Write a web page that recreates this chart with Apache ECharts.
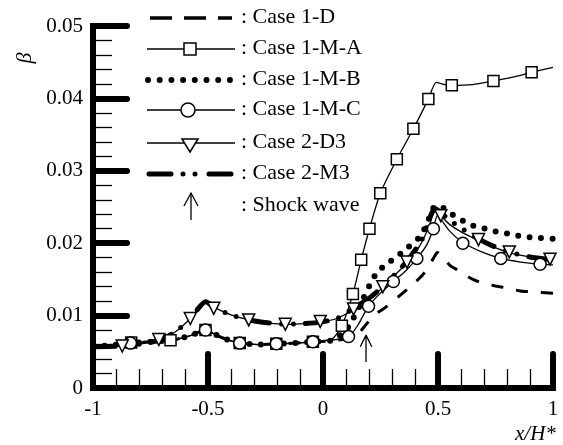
<!DOCTYPE html>
<html>
<head>
<meta charset="utf-8">
<script src="https://cdn.jsdelivr.net/npm/echarts@6/dist/echarts.min.js"></script>
<style>
  html, body { margin: 0; padding: 0; background: #fff; }
  #chart { width: 563px; height: 445px; }
</style>
</head>
<body>
<div id="chart"></div>
<script>
// shared left parts (1-x cases sit on the lower curve, 2-x on the upper one)
const lowerLeft = [[-1, 0.0057], [-0.92, 0.0059], [-0.84, 0.0062], [-0.75, 0.0064], [-0.66, 0.0066], [-0.58, 0.0072], [-0.51, 0.0080], [-0.45, 0.0071], [-0.40, 0.0065], [-0.36, 0.0062], [-0.28, 0.0060], [-0.20, 0.0061], [-0.12, 0.0062], [-0.04, 0.0064]]
const upperLeft = [[-1, 0.0057], [-0.87, 0.0058], [-0.79, 0.0061], [-0.71, 0.0066], [-0.64, 0.0078], [-0.58, 0.0095], [-0.51, 0.0119], [-0.47, 0.0111], [-0.40, 0.0101], [-0.32, 0.0094], [-0.24, 0.0090], [-0.16, 0.0088], [-0.08, 0.0089], [-0.01, 0.0091]]

const case1D = lowerLeft.concat([[0.04, 0.0065], [0.10, 0.0068], [0.15, 0.0074], [0.183, 0.0086], [0.22, 0.0100], [0.27, 0.0111], [0.335, 0.0128], [0.38, 0.0140], [0.43, 0.0155], [0.46, 0.0168], [0.48, 0.0179], [0.497, 0.0187], [0.553, 0.0169], [0.596, 0.0161], [0.64, 0.0152], [0.69, 0.0145], [0.75, 0.0141], [0.80, 0.0138], [0.857, 0.0134], [0.907, 0.0133], [1.0, 0.0131]])
const case1MA = lowerLeft.concat([[0.04, 0.0068], [0.082, 0.0086], [0.13, 0.0130], [0.166, 0.0177], [0.202, 0.0220], [0.249, 0.0269], [0.321, 0.0316], [0.393, 0.0358], [0.458, 0.0399], [0.492, 0.0422], [0.53, 0.0419], [0.56, 0.0418], [0.65, 0.0419], [0.741, 0.0424], [0.82, 0.0429], [0.907, 0.0436], [1.0, 0.0443]])
const case1MB = lowerLeft.concat([[0.04, 0.0066], [0.10, 0.0080], [0.133, 0.0097], [0.174, 0.0123], [0.217, 0.0151], [0.249, 0.0164], [0.289, 0.0174], [0.331, 0.0184], [0.372, 0.0195], [0.415, 0.0207], [0.45, 0.0225], [0.487, 0.0251], [0.521, 0.0249], [0.56, 0.0240], [0.608, 0.0231], [0.654, 0.0224], [0.705, 0.0220], [0.752, 0.0216], [0.806, 0.0213], [0.857, 0.0210], [0.907, 0.0208], [1.0, 0.0206]])
const case1MC = lowerLeft.concat([[0.04, 0.0066], [0.111, 0.0071], [0.15, 0.0086], [0.198, 0.0113], [0.25, 0.0131], [0.306, 0.0147], [0.36, 0.0162], [0.408, 0.0179], [0.45, 0.0197], [0.48, 0.0220], [0.497, 0.0238], [0.55, 0.0217], [0.608, 0.0201], [0.69, 0.0188], [0.773, 0.0179], [0.86, 0.0174], [0.944, 0.0171], [1.0, 0.0170]])
const case2D3 = upperLeft.concat([[0.06, 0.0096], [0.133, 0.0108], [0.20, 0.0122], [0.26, 0.0139], [0.31, 0.0155], [0.365, 0.0173], [0.42, 0.0196], [0.46, 0.0222], [0.487, 0.0244], [0.55, 0.0226], [0.61, 0.0214], [0.676, 0.0204], [0.74, 0.0195], [0.81, 0.0187], [0.90, 0.0181], [1.0, 0.0177]])
const case2M3 = upperLeft.concat([[0.06, 0.0096], [0.133, 0.0110], [0.20, 0.0124], [0.26, 0.0140], [0.365, 0.0175], [0.43, 0.0205], [0.487, 0.0248], [0.55, 0.0232], [0.61, 0.0219], [0.676, 0.0206], [0.74, 0.0196], [0.81, 0.0188], [0.90, 0.0181], [1.0, 0.0177]])

// marker positions
const marks1MA = [[-0.834, 0.0063], [-0.663, 0.0066], [-0.511, 0.0080], [-0.362, 0.0062], [-0.203, 0.0061], [-0.044, 0.0064], [0.082, 0.0086], [0.130, 0.0130], [0.166, 0.0177], [0.202, 0.0220], [0.249, 0.0269], [0.321, 0.0316], [0.393, 0.0358], [0.458, 0.0399], [0.560, 0.0418], [0.741, 0.0424], [0.907, 0.0436]]
const marks1MC = [[-0.837, 0.0062], [-0.511, 0.0080], [-0.362, 0.0062], [-0.203, 0.0061], [-0.044, 0.0064], [0.111, 0.0071], [0.198, 0.0113], [0.306, 0.0147], [0.408, 0.0179], [0.480, 0.0220], [0.608, 0.0200], [0.773, 0.0179], [0.944, 0.0171]]
const marks2D3 = [[-0.873, 0.0058], [-0.714, 0.0067], [-0.577, 0.0096], [-0.475, 0.0110], [-0.323, 0.0094], [-0.164, 0.0088], [-0.012, 0.0092], [0.133, 0.0109], [0.260, 0.0140], [0.365, 0.0174], [0.512, 0.0238], [0.676, 0.0205], [0.810, 0.0188], [0.987, 0.0178]]

// shock wave arrow: shaft then open head
const shockArrow = [[0.187, 0.0036], [0.187, 0.0073], [0.162, 0.0057], [0.187, 0.0073], [0.212, 0.0057]]

const xTicks = { min: -1, max: 1, step: 0.5 }
const yTicks = { min: 0, max: 0.05, step: 0.01 }

const legendRows = [
  { name: 'Case 1-D', y: 18 },
  { name: 'Case 1-M-A', y: 49 },
  { name: 'Case 1-M-B', y: 80 },
  { name: 'Case 1-M-C', y: 110 },
  { name: 'Case 2-D3', y: 143 },
  { name: 'Case 2-M3', y: 174 },
  { name: 'Shock wave', y: 206 },
]

const serif = '"Liberation Serif", "Times New Roman", serif'
const chart = echarts.init(document.getElementById('chart'))

function axisCommon (t) {
  return {
    type: 'value',
    min: t.min,
    max: t.max,
    interval: t.step,
    axisLine: { show: true, onZero: false, lineStyle: { color: '#000', width: 6, cap: 'square' } },
    axisTick: { show: true, inside: true, length: 34, lineStyle: { color: '#000', width: 6, cap: 'round' } },
    minorTick: { show: true, splitNumber: 5, length: 19, lineStyle: { color: '#000', width: 1.3 } },
    splitLine: { show: false },
    axisLabel: { color: '#000', fontFamily: serif, fontSize: 21 },
  }
}

const lx1 = 147
const lx2 = 235
const mx = 190
const legendGraphics = []
legendRows.forEach(r => {
  legendGraphics.push({
    type: 'text',
    left: 241, top: r.y - 12,
    style: { text: ': ' + r.name, font: '22px ' + serif, fill: '#000' },
  })
})
const ly = legendRows.map(r => r.y)
legendGraphics.push(
  { type: 'line', shape: { x1: 150, y1: ly[0], x2: 232, y2: ly[0] }, style: { stroke: '#000', lineWidth: 3.5, lineDash: [22, 12] } },
  { type: 'line', shape: { x1: lx1, y1: ly[1], x2: lx2, y2: ly[1] }, style: { stroke: '#000', lineWidth: 1.3 } },
  { type: 'rect', shape: { x: mx - 6, y: ly[1] - 6, width: 12, height: 12 }, style: { fill: '#fff', stroke: '#000', lineWidth: 1.5 } },
  { type: 'line', shape: { x1: 148, y1: ly[2], x2: 232, y2: ly[2] }, style: { stroke: '#000', lineWidth: 6, lineDash: [0, 11.7], lineCap: 'round' } },
  { type: 'line', shape: { x1: lx1, y1: ly[3], x2: lx2, y2: ly[3] }, style: { stroke: '#000', lineWidth: 1.3 } },
  { type: 'circle', shape: { cx: mx - 2, cy: ly[3], r: 7 }, style: { fill: '#fff', stroke: '#000', lineWidth: 1.5 } },
  { type: 'line', shape: { x1: lx1, y1: ly[4], x2: lx2, y2: ly[4] }, style: { stroke: '#000', lineWidth: 1.3 } },
  { type: 'polygon', shape: { points: [[mx - 8, ly[4] - 4], [mx + 8, ly[4] - 4], [mx, ly[4] + 9]] }, style: { fill: '#fff', stroke: '#000', lineWidth: 1.5 } },
  { type: 'line', shape: { x1: 149, y1: ly[5], x2: 233, y2: ly[5] }, style: { stroke: '#000', lineWidth: 5, lineDash: [22, 12, 0, 12, 0, 14], lineCap: 'round' } },
  { type: 'polyline', shape: { points: [[191, 220], [191, 193]] }, style: { stroke: '#000', lineWidth: 1.3, fill: null } },
  { type: 'polyline', shape: { points: [[184, 206], [191, 193], [198, 206]] }, style: { stroke: '#000', lineWidth: 1.3, fill: null } },
  // axis names
  { type: 'text', x: 25, y: 58, rotation: Math.PI / 2, style: { text: 'β', font: 'italic 22px ' + serif, fill: '#000', align: 'center', verticalAlign: 'middle' } },
  { type: 'text', left: 515, top: 424, style: { text: 'x/H*', font: 'italic 21px ' + serif, fill: '#000' } }
)

function lineSeries (name, data, lineStyle, z) {
  return { name, type: 'line', data, smooth: 0.2, showSymbol: false, symbol: 'none', lineStyle: Object.assign({ color: '#000' }, lineStyle), z: z || 2, animation: false }
}
function markSeries (name, data, symbol, size, rotate) {
  return { name, type: 'scatter', data, symbol, symbolSize: size, symbolRotate: rotate || 0, itemStyle: { color: '#fff', borderColor: '#000', borderWidth: 1.5, opacity: 1 }, z: 5, animation: false }
}

chart.setOption({
  backgroundColor: '#fff',
  animation: false,
  grid: { left: 93, right: 10, top: 26, bottom: 57, containLabel: false },
  xAxis: Object.assign(axisCommon(xTicks), { axisLabel: { color: '#000', fontFamily: serif, fontSize: 21, margin: 11 } }),
  yAxis: Object.assign(axisCommon(yTicks), { axisLabel: { color: '#000', fontFamily: serif, fontSize: 21, margin: 10 } }),
  series: [
    lineSeries('Case 1-D', case1D, { width: 3, type: [12, 13] }),
    lineSeries('Case 1-M-A', case1MA, { width: 1.3 }),
    lineSeries('Case 1-M-B', case1MB, { width: 6, type: [0, 11.5], cap: 'round' }),
    lineSeries('Case 1-M-C', case1MC, { width: 1.3 }),
    lineSeries('Case 2-D3', case2D3, { width: 1.3 }),
    lineSeries('Case 2-M3', case2M3, { width: 5, type: [22, 12, 0, 12, 0, 12], cap: 'round' }, 3),
    markSeries('Case 1-M-A', marks1MA, 'rect', 11),
    markSeries('Case 1-M-C', marks1MC, 'circle', 12),
    markSeries('Case 2-D3', marks2D3, 'triangle', 12, 180),
    { name: 'Shock wave', type: 'line', data: shockArrow, symbol: 'none', smooth: false, lineStyle: { color: '#000', width: 1.3 }, z: 4, animation: false },
  ],
  graphic: legendGraphics,
})
</script>
</body>
</html>
